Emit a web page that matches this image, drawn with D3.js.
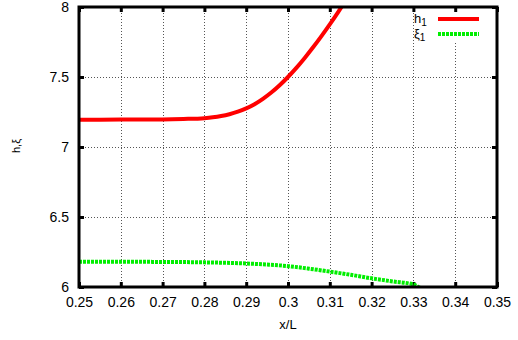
<!DOCTYPE html>
<html>
<head>
<meta charset="utf-8">
<script src="https://cdn.jsdelivr.net/npm/d3@7"></script>
<style>
  html, body { margin: 0; padding: 0; background: #fff; }
  svg text { font-family: "Liberation Sans", Arial, Helvetica, sans-serif; fill: #000; }
</style>
</head>
<body>
<svg id="chart" width="518" height="340"></svg>
<script>
// Displacement profiles along the channel
const hX   = [0.25, 0.26, 0.27, 0.275, 0.28, 0.282, 0.284, 0.286, 0.288, 0.29, 0.292, 0.294, 0.296, 0.298, 0.30, 0.302, 0.304, 0.306, 0.308, 0.31, 0.312, 0.314];
const hY   = [7.195, 7.196, 7.197, 7.200, 7.206, 7.212, 7.221, 7.234, 7.252, 7.276, 7.306, 7.344, 7.389, 7.441, 7.500, 7.565, 7.636, 7.712, 7.792, 7.876, 7.964, 8.056];
const xiX  = [0.25, 0.26, 0.27, 0.28, 0.29, 0.295, 0.30, 0.305, 0.31, 0.315, 0.32, 0.325, 0.33, 0.3315];
const xiY  = [6.18, 6.18, 6.179, 6.176, 6.168, 6.16, 6.149, 6.131, 6.11, 6.087, 6.062, 6.04, 6.018, 5.995];

const xTicks = [0.25, 0.26, 0.27, 0.28, 0.29, 0.3, 0.31, 0.32, 0.33, 0.34, 0.35];
const yTicks = [6, 6.5, 7, 7.5, 8];

const seriesNames  = ["h", "\u03be"];

const svg = d3.select("#chart");
const L = 79, R = 497, T = 7, B = 287;

const x = d3.scaleLinear().domain([0.25, 0.35]).range([L, R]);
const y = d3.scaleLinear().domain([6, 8]).range([B, T]);

svg.append("defs").append("clipPath").attr("id", "plotclip")
  .append("rect").attr("x", L).attr("y", T).attr("width", R - L).attr("height", B - T);

// grid
const grid = svg.append("g").attr("stroke", "#555").attr("stroke-width", 1)
  .attr("stroke-dasharray", "1,2").attr("shape-rendering", "crispEdges");
xTicks.slice(1, -1).forEach(t => {
  grid.append("line").attr("x1", Math.round(x(t)) + 0.5).attr("x2", Math.round(x(t)) + 0.5)
    .attr("y1", T).attr("y2", B);
});
yTicks.slice(1, -1).forEach(t => {
  grid.append("line").attr("x1", L).attr("x2", R)
    .attr("y1", Math.round(y(t)) + 0.5).attr("y2", Math.round(y(t)) + 0.5);
});

// legend background hides the grid behind the key
svg.append("rect").attr("x", 418).attr("y", T + 2).attr("width", R - 420).attr("height", 34).attr("fill", "#fff");

// axes with inward ticks, mirrored
const axB = d3.axisBottom(x).tickValues(xTicks).tickSize(-5).tickPadding(10).tickFormat(d3.format("~g"));
const axT = d3.axisTop(x).tickValues(xTicks).tickSize(-5).tickFormat("");
const axLft = d3.axisLeft(y).tickValues(yTicks).tickSize(-5).tickPadding(10).tickFormat(d3.format("~g"));
const axRgt = d3.axisRight(y).tickValues(yTicks).tickSize(-5).tickFormat("");

function style(g) {
  g.select(".domain").remove();
  g.selectAll(".tick line").attr("stroke", "#000").attr("stroke-width", 3);
  g.selectAll(".tick text").attr("font-size", 14).attr("fill", "#000")
    .attr("font-family", "Liberation Sans, Arial, sans-serif");
}
svg.append("g").attr("transform", `translate(0,${B})`).call(axB).call(style);
svg.append("g").attr("transform", `translate(0,${T})`).call(axT).call(style);
svg.append("g").attr("transform", `translate(${L},0)`).call(axLft).call(style);
svg.append("g").attr("transform", `translate(${R},0)`).call(axRgt).call(style);

// curves
const line = d3.line().curve(d3.curveMonotoneX);
const plot = svg.append("g").attr("clip-path", "url(#plotclip)");
plot.append("path")
  .attr("d", line(hX.map((v, i) => [x(v), y(hY[i])])))
  .attr("fill", "none").attr("stroke", "#ff0000").attr("stroke-width", 4);
plot.append("path")
  .attr("d", line(xiX.map((v, i) => [x(v), y(xiY[i])])))
  .attr("fill", "none").attr("stroke", "#00ee00").attr("stroke-width", 4)
  .attr("stroke-dasharray", "3,1");

// frame
svg.append("rect").attr("x", L).attr("y", T).attr("width", R - L).attr("height", B - T)
  .attr("fill", "none").attr("stroke", "#000").attr("stroke-width", 3);

// legend
const leg = svg.append("g");
const legItems = [
  {name: seriesNames[0], color: "#ff0000", dash: null, yy: 19, ty: 23},
  {name: seriesNames[1], color: "#00ee00", dash: "3,1", yy: 34, ty: 38}
];
legItems.forEach(it => {
  leg.append("line").attr("x1", 438).attr("x2", 479).attr("y1", it.yy).attr("y2", it.yy)
    .attr("stroke", it.color).attr("stroke-width", 4).attr("stroke-dasharray", it.dash);
  const t = leg.append("text").attr("x", 414).attr("y", it.ty).attr("font-size", 13);
  t.append("tspan").text(it.name);
  t.append("tspan").attr("font-size", 10).attr("dy", 3).text("1");
});

// axis titles
svg.append("text").attr("x", 288).attr("y", 329).attr("text-anchor", "middle")
  .attr("font-size", 13).text("x/L");
svg.append("text").attr("transform", "translate(20,146) rotate(-90)").attr("text-anchor", "middle")
  .attr("font-size", 11).text("h,\u03be");
</script>
</body>
</html>
